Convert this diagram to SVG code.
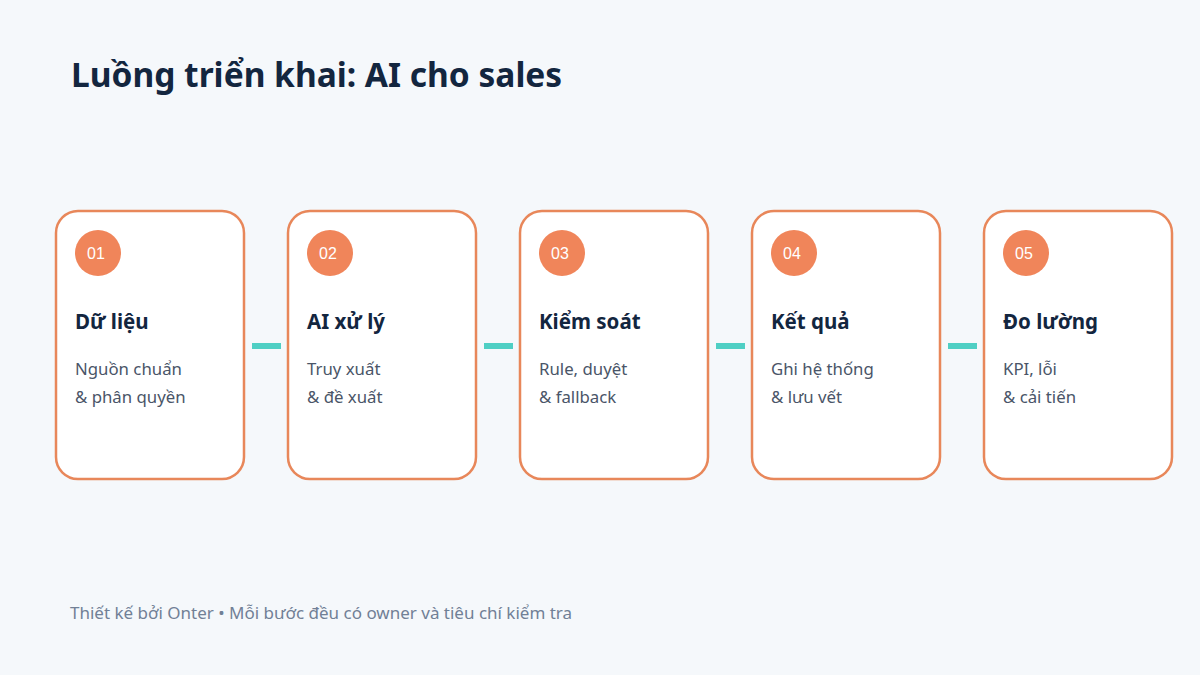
<svg xmlns="http://www.w3.org/2000/svg" width="1200" height="675" viewBox="0 0 1200 675">
<style>
.card{fill:#ffffff;stroke:#E8875A;stroke-width:2.5}
.badge{fill:#F0855A}
.num{font-family:"Liberation Sans",Arial,sans-serif;font-size:16px;fill:#ffffff;text-anchor:middle}
.h{font-family:"Noto Sans",sans-serif;font-weight:bold;font-size:20.5px;fill:#13263F}
.b{font-family:"Noto Sans",sans-serif;font-size:16.8px;fill:#4A5568}
.bar{fill:#4FCFC4}
</style>
<rect width="1200" height="675" fill="#F5F8FB"/>
<text x="71" y="87" font-family="'Noto Sans',sans-serif" font-weight="bold" font-size="33.5" fill="#13263F">Luồng triển khai: AI cho sales</text>
<g id="connectors">
<rect class="bar" x="252" y="343" width="29" height="6"/>
<rect class="bar" x="484" y="343" width="29" height="6"/>
<rect class="bar" x="716" y="343" width="29" height="6"/>
<rect class="bar" x="948" y="343" width="29" height="6"/>
</g>
<g id="step1">
<rect class="card" x="56" y="211" width="188" height="268" rx="22"/>
<circle class="badge" cx="98" cy="253" r="23"/>
<text class="num" x="96" y="259">01</text>
<text class="h" x="75" y="329">Dữ liệu</text>
<text class="b" x="75" y="375">Nguồn chuẩn</text>
<text class="b" x="75" y="403">&amp; phân quyền</text>
</g>
<g id="step2">
<rect class="card" x="288" y="211" width="188" height="268" rx="22"/>
<circle class="badge" cx="330" cy="253" r="23"/>
<text class="num" x="328" y="259">02</text>
<text class="h" x="307" y="329">AI xử lý</text>
<text class="b" x="307" y="375">Truy xuất</text>
<text class="b" x="307" y="403">&amp; đề xuất</text>
</g>
<g id="step3">
<rect class="card" x="520" y="211" width="188" height="268" rx="22"/>
<circle class="badge" cx="562" cy="253" r="23"/>
<text class="num" x="560" y="259">03</text>
<text class="h" x="539" y="329">Kiểm soát</text>
<text class="b" x="539" y="375">Rule, duyệt</text>
<text class="b" x="539" y="403">&amp; fallback</text>
</g>
<g id="step4">
<rect class="card" x="752" y="211" width="188" height="268" rx="22"/>
<circle class="badge" cx="794" cy="253" r="23"/>
<text class="num" x="792" y="259">04</text>
<text class="h" x="771" y="329">Kết quả</text>
<text class="b" x="771" y="375">Ghi hệ thống</text>
<text class="b" x="771" y="403">&amp; lưu vết</text>
</g>
<g id="step5">
<rect class="card" x="984" y="211" width="188" height="268" rx="22"/>
<circle class="badge" cx="1026" cy="253" r="23"/>
<text class="num" x="1024" y="259">05</text>
<text class="h" x="1003" y="329">Đo lường</text>
<text class="b" x="1003" y="375">KPI, lỗi</text>
<text class="b" x="1003" y="403">&amp; cải tiến</text>
</g>
<text x="70" y="619" font-family="'Noto Sans',sans-serif" font-size="17" fill="#718096">Thiết kế bởi Onter • Mỗi bước đều có owner và tiêu chí kiểm tra</text>
</svg>
